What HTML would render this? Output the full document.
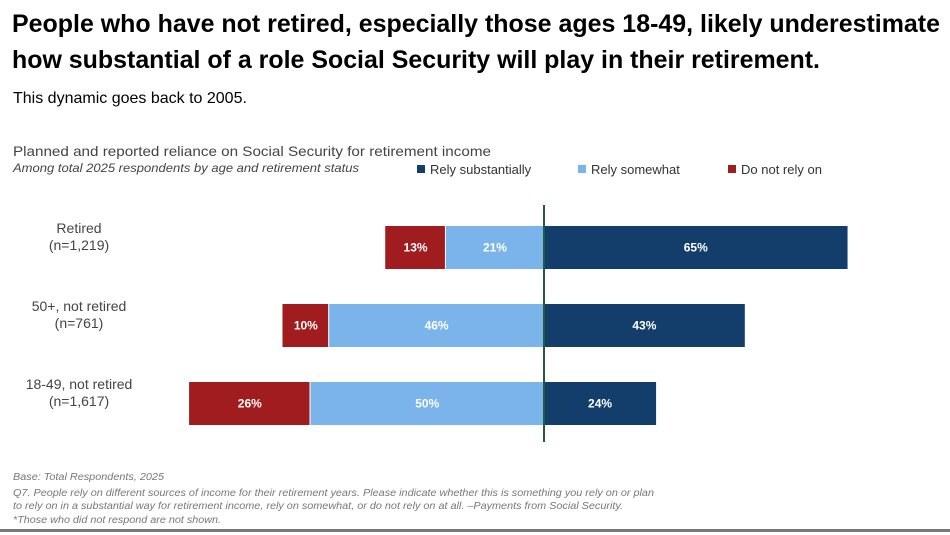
<!DOCTYPE html>
<html><head><meta charset="utf-8"><style>
html,body{margin:0;padding:0;background:#fff;}
svg{display:block;font-family:"Liberation Sans",Arial,sans-serif;}
</style></head><body>
<svg id="chart" width="950" height="535" viewBox="0 0 950 535">
<text x="12" y="32" font-size="25" font-weight="bold" fill="#000" textLength="928" lengthAdjust="spacingAndGlyphs">People who have not retired, especially those ages 18-49, likely underestimate</text>
<text x="12" y="68" font-size="25" font-weight="bold" fill="#000" textLength="808" lengthAdjust="spacingAndGlyphs">how substantial of a role Social Security will play in their retirement.</text>
<text x="13" y="103" font-size="16" fill="#000">This dynamic goes back to 2005.</text>
<text x="13" y="156" font-size="14" fill="#444" textLength="478" lengthAdjust="spacingAndGlyphs">Planned and reported reliance on Social Security for retirement income</text>
<text x="13" y="172" font-size="12" font-style="italic" fill="#444" textLength="346" lengthAdjust="spacingAndGlyphs">Among total 2025 respondents by age and retirement status</text>
<g>
<rect x="417" y="165" width="8" height="8" fill="#133d6b"/>
<text x="430" y="174" font-size="13" fill="#333">Rely substantially</text>
<rect x="578" y="165" width="8" height="8" fill="#7ab4ea"/>
<text x="591" y="174" font-size="13" fill="#333">Rely somewhat</text>
<rect x="728" y="165" width="8" height="8" fill="#a11c1f"/>
<text x="741" y="174" font-size="13" fill="#333">Do not rely on</text>
</g>
<g id="bars"></g>
<line x1="544" y1="205" x2="544" y2="442" stroke="#1f5c3a" stroke-width="2"/>
<text x="13" y="480" font-size="10" font-style="italic" fill="#777" textLength="151" lengthAdjust="spacingAndGlyphs">Base: Total Respondents, 2025</text>
<text x="13" y="496" font-size="10.5" font-style="italic" fill="#777" textLength="641" lengthAdjust="spacingAndGlyphs">Q7.  People rely on different sources of income for their retirement years. Please indicate whether this is something you rely on or plan</text>
<text x="13" y="509" font-size="10.5" font-style="italic" fill="#777" textLength="610" lengthAdjust="spacingAndGlyphs">to rely on in a substantial way for retirement income, rely on somewhat, or do not rely on at all. –Payments from Social Security.</text>
<text x="13" y="523" font-size="10" font-style="italic" fill="#777" textLength="208" lengthAdjust="spacingAndGlyphs">*Those who did not respond are not shown.</text>
<rect x="0" y="529" width="950" height="3" fill="#777"/>
</svg>
<script>
const categories = ["Retired", "50+, not retired", "18-49, not retired"];
const sampleSizes = ["(n=1,219)", "(n=761)", "(n=1,617)"];
const substantial = [65, 43, 24];
const somewhat = [21, 46, 50];
const notRely = [13, 10, 26];

const ns = "http://www.w3.org/2000/svg";
const g = document.getElementById("bars");
const x0 = 544, scale = 4.67;
const xPos = v => x0 + v * scale;
const rowY = i => 226 + i * 78;
const barH = 43;
function mk(tag, attrs){const e=document.createElementNS(ns,tag);for(const k in attrs)e.setAttribute(k,attrs[k]);g.appendChild(e);return e;}
function label(x,y,txt){const t=mk("text",{x:x,y:y,"font-size":12,"font-weight":"bold",fill:"#fff","text-anchor":"middle"});t.textContent=txt;

}
categories.forEach((c,i)=>{
  const y=rowY(i);
  const r1=mk("rect",{x:x0,y:y,width:xPos(substantial[i])-x0,height:barH,fill:"#133d6b"});
  
  
  label((x0+xPos(substantial[i]))/2,y+barH/2+4,substantial[i]+"%");
  const sL=xPos(-somewhat[i]);
  const r2=mk("rect",{x:sL,y:y,width:x0-sL-1,height:barH,fill:"#7ab4ea"});
  
  
  label((sL+x0)/2,y+barH/2+4,somewhat[i]+"%");
  const nL=xPos(-somewhat[i]-notRely[i]);
  const r3=mk("rect",{x:nL,y:y,width:sL-nL-1,height:barH,fill:"#a11c1f"});
  
  
  label((nL+sL)/2,y+barH/2+4,notRely[i]+"%");
  const t1=mk("text",{x:79,y:y+7,"font-size":14,fill:"#444","text-anchor":"middle"});
  t1.textContent=c;
  
  
  const t2=mk("text",{x:79,y:y+24,"font-size":14,fill:"#444","text-anchor":"middle"});
  t2.textContent=sampleSizes[i];
  
  
});
</script>
</body></html>
